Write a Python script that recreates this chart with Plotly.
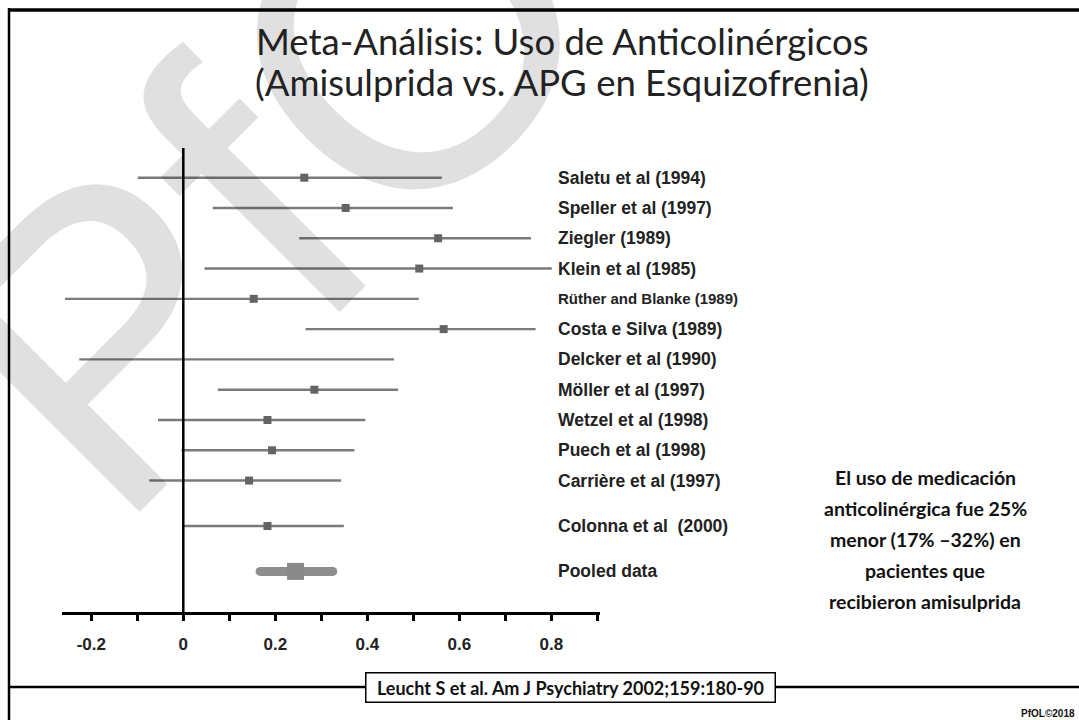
import plotly.graph_objects as go

# ---------------- data ----------------
studies = ["Saletu et al (1994)", "Speller et al (1997)", "Ziegler (1989)", "Klein et al (1985)",
           "Rüther and Blanke (1989)", "Costa e Silva (1989)", "Delcker et al (1990)",
           "Möller et al (1997)", "Wetzel et al (1998)", "Puech et al (1998)",
           "Carrière et al (1997)", "Colonna et al  (2000)"]
rows = [0, 1, 2, 3, 4, 5, 6, 7, 8, 9, 10, 11.5]
estimate = [0.263, 0.353, 0.554, 0.513, 0.153, 0.566, None, 0.285, 0.183, 0.193, 0.143, 0.183]
ci_low = [-0.099, 0.064, 0.252, 0.046, -0.257, 0.266, -0.226, 0.075, -0.055, -0.004, -0.074, 0.0]
ci_high = [0.562, 0.586, 0.756, 0.801, 0.512, 0.766, 0.458, 0.467, 0.396, 0.372, 0.343, 0.349]

pooled_label = "Pooled data"
pooled_row = 13
pooled_est = 0.244
pooled_low = 0.167
pooled_high = 0.325

tick_values = [-0.2, -0.1, 0, 0.1, 0.2, 0.3, 0.4, 0.5, 0.6, 0.7, 0.8, 0.9]
tick_labels = ["-0.2", "", "0", "", "0.2", "", "0.4", "", "0.6", "", "0.8", ""]

title_lines = ["Meta-Análisis: Uso de Anticolinérgicos", "(Amisulprida vs. APG en Esquizofrenia)"]
note_lines = ["El uso de medicación", "anticolinérgica fue 25%", "menor (17% –32%) en",
              "pacientes que", "recibieron amisulprida"]
citation = "Leucht S et al. Am J Psychiatry 2002;159:180-90"
footer = "PfOL©2018"
watermark = "PfOL"

# ---------------- figure ----------------
W, H = 1079, 720


def px(x):
    return x / W


def py(y):
    return 1 - y / H


LABEL_X = 0.81
fig = go.Figure()

# CI lines
lx, ly = [], []
for r, a, b in zip(rows, ci_low, ci_high):
    lx += [a, b, None]
    ly += [r, r, None]
fig.add_trace(go.Scatter(x=lx, y=ly, mode="lines", line=dict(color="#7a7a7a", width=2.4),
                         hoverinfo="skip", showlegend=False))
# point estimates
fig.add_trace(go.Scatter(x=[e for e in estimate if e is not None],
                         y=[r for r, e in zip(rows, estimate) if e is not None],
                         mode="markers", marker=dict(symbol="square", size=8, color="#646464"),
                         showlegend=False))
# pooled
fig.add_trace(go.Scatter(x=[pooled_low, pooled_high], y=[pooled_row, pooled_row], mode="lines",
                         line=dict(color="#8e8e8e", width=9), showlegend=False))
fig.add_trace(go.Scatter(x=[pooled_low, pooled_high], y=[pooled_row, pooled_row], mode="markers",
                         marker=dict(symbol="circle", size=9, color="#8e8e8e"), showlegend=False))
fig.add_trace(go.Scatter(x=[pooled_est], y=[pooled_row], mode="markers",
                         marker=dict(symbol="square", size=17, color="#8a8a8a"), showlegend=False))

annotations = []
# watermark (semi-transparent, big rotated text, partly off-page as in the original slide)
annotations.append(dict(x=px(350), y=py(95), xref="paper", yref="paper", text=watermark,
                        showarrow=False, textangle=-45, xanchor="center", yanchor="middle",
                        font=dict(family="Liberation Sans, Arial", size=420, color="rgba(0,0,0,0.12)")))

for name, r in zip(studies + [pooled_label], rows + [pooled_row]):
    size = 15 if name.startswith("Rüther") else 17.5
    annotations.append(dict(x=LABEL_X, y=r, xref="x", yref="y", text="<b>%s</b>" % name,
                            showarrow=False, xanchor="left", yanchor="middle",
                            font=dict(family="Liberation Sans, Arial", size=size, color="#222")))

for i, line in enumerate(title_lines):
    annotations.append(dict(x=px(562), y=py(41 + 41 * i), xref="paper", yref="paper",
                            text=line, showarrow=False, xanchor="center", yanchor="middle",
                            font=dict(family="Lato", size=36.5, color="#222")))

for i, line in enumerate(note_lines):
    annotations.append(dict(x=px(925), y=py(477 + 31.2 * i), xref="paper", yref="paper",
                            text="<b>%s</b>" % line, showarrow=False, xanchor="center",
                            yanchor="middle", font=dict(family="Lato", size=19.5, color="#111")))

annotations.append(dict(x=px(570), y=py(687), xref="paper", yref="paper",
                        text="<b>%s</b>" % citation, showarrow=False, xanchor="center",
                        yanchor="middle", bgcolor="white", bordercolor="black", borderwidth=1.5,
                        borderpad=2, width=404, height=24,
                        font=dict(family="Lato", size=18, color="#111")))

annotations.append(dict(x=px(1077), y=py(713), xref="paper", yref="paper",
                        text="<b>%s</b>" % footer, showarrow=False, xanchor="right",
                        yanchor="middle", font=dict(family="Liberation Sans, Arial", size=10, color="#111")))

shapes = [
    dict(type="line", xref="paper", yref="paper", x0=px(8), x1=1, y0=py(10), y1=py(10),
         line=dict(color="black", width=3.5)),
    dict(type="line", xref="paper", yref="paper", x0=px(9), x1=px(9), y0=py(8), y1=0,
         line=dict(color="black", width=2.5)),
    dict(type="line", xref="paper", yref="paper", x0=px(9), x1=1, y0=py(687), y1=py(687),
         line=dict(color="black", width=2.5), layer="below"),
    dict(type="line", xref="x", yref="y domain", x0=0, x1=0, y0=0, y1=1,
         line=dict(color="black", width=2.5)),
]

fig.update_layout(
    width=W, height=H, margin=dict(l=0, r=0, t=0, b=0),
    paper_bgcolor="white", plot_bgcolor="rgba(0,0,0,0)",
    showlegend=False,
    xaxis=dict(domain=[px(62), px(600)], range=[-0.2637, 0.9059], showgrid=False, zeroline=False,
               showline=True, linecolor="black", linewidth=3, ticks="outside", ticklen=6,
               tickwidth=2.5, tickcolor="black", tickvals=tick_values, ticktext=tick_labels,
               ticklabelstandoff=9,
               tickfont=dict(family="Liberation Sans, Arial", size=17, color="#222", weight="bold")),
    yaxis=dict(domain=[py(612), py(148)], range=[14.34, -0.98], visible=False),
    annotations=annotations, shapes=shapes,
)

fig.write_html("out.html", config={"displayModeBar": False},
               post_script="document.body.style.margin='0';document.body.style.overflow='hidden';")
